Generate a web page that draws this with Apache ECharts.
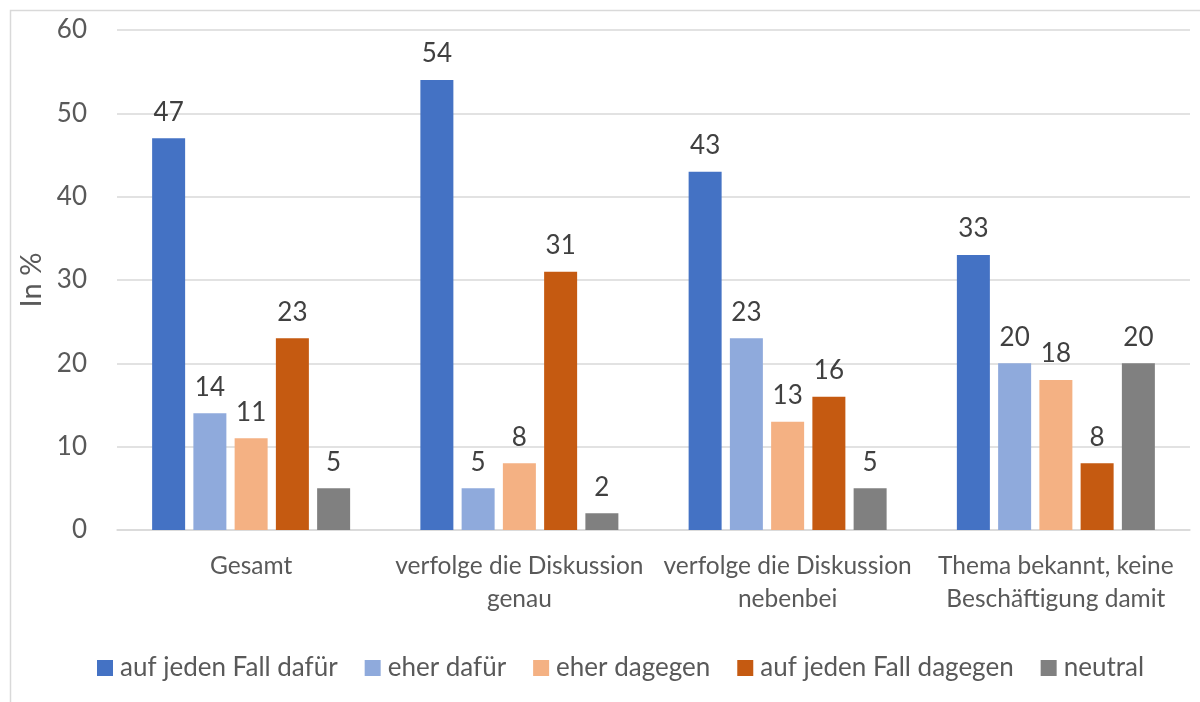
<!DOCTYPE html>
<html>
<head>
<meta charset="utf-8">
<script src="https://cdn.jsdelivr.net/npm/echarts@6/dist/echarts.min.js"></script>
<style>
  html, body { margin: 0; padding: 0; background: #fff; }
  #chart { width: 1200px; height: 702px; }
</style>
</head>
<body>
<div id="chart"></div>
<script>
const categories = [
  'Gesamt',
  'verfolge die Diskussion\ngenau',
  'verfolge die Diskussion\nnebenbei',
  'Thema bekannt, keine\nBeschäftigung damit'
];
const seriesNames = ['auf jeden Fall dafür', 'eher dafür', 'eher dagegen', 'auf jeden Fall dagegen', 'neutral'];
const jaUnbedingt = [47, 54, 43, 33];
const eherDafuer = [14, 5, 23, 20];
const eherDagegen = [11, 8, 13, 18];
const neinUnbedingt = [23, 31, 16, 8];
const neutral = [5, 2, 5, 20];
const yTicks = [0, 10, 20, 30, 40, 50, 60];

const colors = ['#4472C4', '#8FAADC', '#F4B183', '#C55A11', '#808080'];
const values = [jaUnbedingt, eherDafuer, eherDagegen, neinUnbedingt, neutral];
const font = 'Lato, "Open Sans", sans-serif';

const chart = echarts.init(document.getElementById('chart'));

chart.setOption({
  animation: false,
  backgroundColor: '#fff',
  textStyle: { fontFamily: font },
  graphic: [{
    type: 'rect',
    shape: { x: 10.5, y: 10.5, width: 1200, height: 710 },
    style: { fill: 'none', stroke: '#d9d9d9', lineWidth: 1.5 },
    silent: true
  }],
  grid: { left: 117, right: 10, top: 30, bottom: 172, containLabel: false },
  legend: {
    bottom: 16,
    left: 92,
    itemWidth: 16,
    itemHeight: 16,
    itemGap: 27,
    icon: 'rect',
    textStyle: { fontSize: 26, color: '#595959', fontFamily: font, padding: [0, 0, 0, 2] },
    data: seriesNames
  },
  xAxis: {
    type: 'category',
    data: categories,
    axisLine: { lineStyle: { color: '#d9d9d9', width: 1.5 } },
    axisTick: { show: false },
    axisLabel: { fontSize: 24.5, color: '#595959', lineHeight: 33, margin: 20, fontFamily: font, interval: 0 }
  },
  yAxis: {
    type: 'value',
    min: yTicks[0],
    max: yTicks[yTicks.length - 1],
    interval: 10,
    name: 'In %',
    nameLocation: 'middle',
    nameGap: 62,
    nameTextStyle: { fontSize: 29, color: '#595959', fontFamily: font },
    axisLine: { show: false },
    axisTick: { show: false },
    splitLine: { lineStyle: { color: '#d9d9d9', width: 1.5 } },
    axisLabel: { fontSize: 26, color: '#595959', margin: 30, fontFamily: font }
  },
  series: seriesNames.map((name, i) => ({
    name,
    type: 'bar',
    data: values[i],
    barWidth: 33,
    barGap: '25%',
    itemStyle: { color: colors[i] },
    label: {
      show: true,
      position: 'top',
      distance: 13,
      fontSize: 26,
      color: '#404040',
      fontFamily: font
    }
  }))
});
</script>
</body>
</html>
